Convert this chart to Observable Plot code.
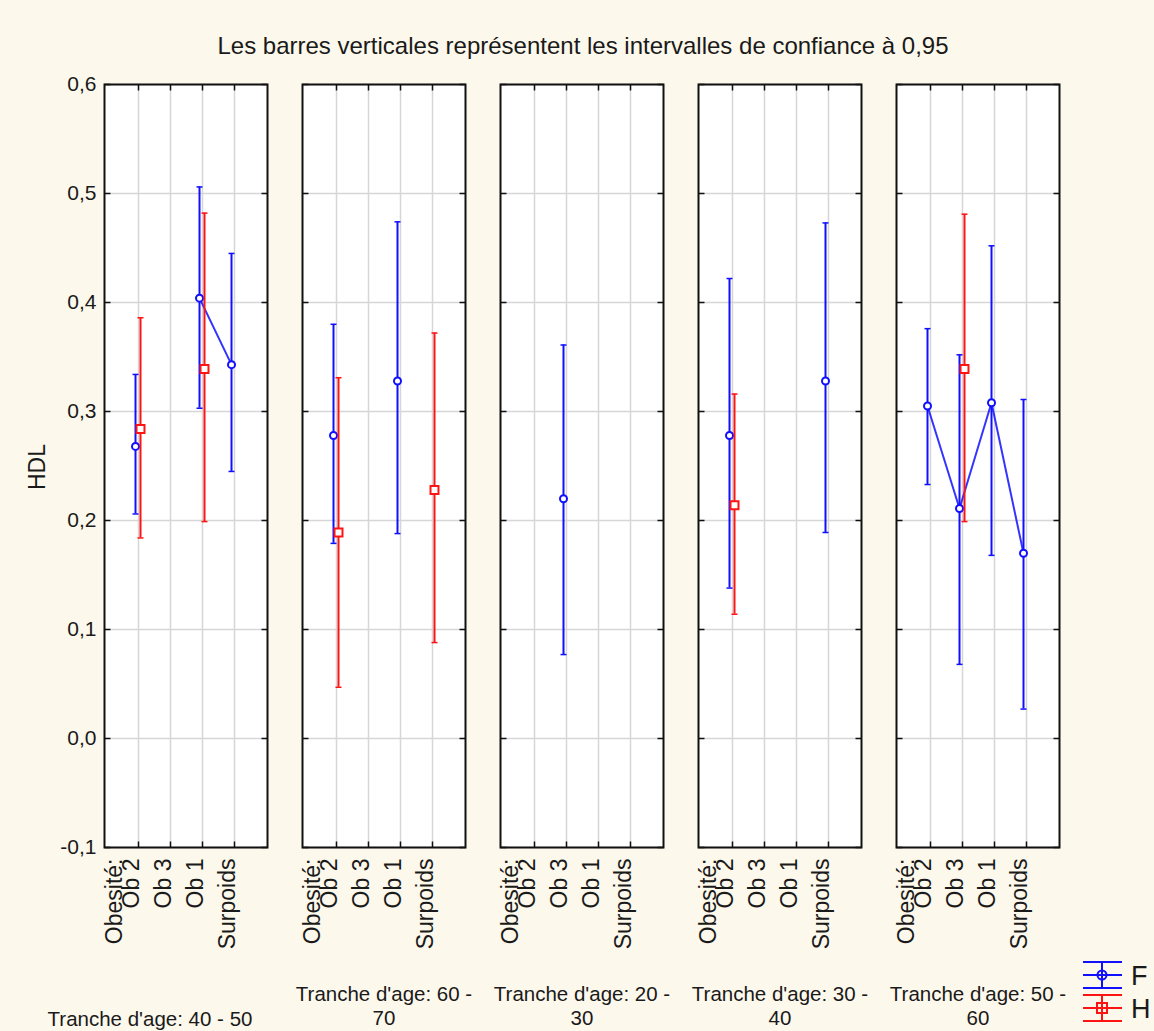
<!DOCTYPE html>
<html>
<head>
<meta charset="utf-8">
<script src="https://cdn.jsdelivr.net/npm/d3@7"></script>
<script src="https://cdn.jsdelivr.net/npm/@observablehq/plot@0.6"></script>
<style>
  html, body { margin: 0; padding: 0; background: #fdf8ec; }
  #wrap { position: relative; width: 1154px; height: 1031px; overflow: hidden; background: #fdf8ec; }
  #chart { position: absolute; left: 0; top: 0; }
  #overlay { position: absolute; left: 0; top: 0; pointer-events: none; }
</style>
</head>
<body>
<div id="wrap">
  <div id="chart"></div>
  <svg id="overlay" width="1154" height="1031">
    <text x="583" y="54" text-anchor="middle" font-family="Liberation Sans, Arial, sans-serif" font-size="24" fill="#1a1a1a">Les barres verticales représentent les intervalles de confiance à 0,95</text>
    <text x="45" y="467" text-anchor="middle" transform="rotate(-90 45 467)" font-family="Liberation Sans, Arial, sans-serif" font-size="23" fill="#1a1a1a">HDL</text>
    <g id="legend"></g>
  </svg>
</div>
<script>
// ---- data ----
const ageGroups = ["40 - 50", "60 - 70", "20 - 30", "30 - 40", "50 - 60"];
const facetLabels = ["Tranche d'age: 40 - 50", "Tranche d'age: 60 -\n70", "Tranche d'age: 20 -\n30", "Tranche d'age: 30 -\n40", "Tranche d'age: 50 -\n60"];
const categories = ["Ob 2", "Ob 3", "Ob 1", "Surpoids"];
const categoryTitle = "Obesité:";
const yTicks = [-0.1, 0, 0.1, 0.2, 0.3, 0.4, 0.5, 0.6];
const sexes = ["F", "H"];

const fMean = [[0.268, null, 0.404, 0.343], [0.278, null, 0.328, null], [null, 0.220, null, null], [0.278, null, null, 0.328], [0.305, 0.211, 0.308, 0.170]];
const fLow  = [[0.206, null, 0.303, 0.245], [0.179, null, 0.188, null], [null, 0.077, null, null], [0.138, null, null, 0.189], [0.233, 0.068, 0.168, 0.027]];
const fHigh = [[0.334, null, 0.506, 0.445], [0.380, null, 0.474, null], [null, 0.361, null, null], [0.422, null, null, 0.473], [0.376, 0.352, 0.452, 0.311]];

const hMean = [[0.284, null, 0.339, null], [0.189, null, null, 0.228], [null, null, null, null], [0.214, null, null, null], [null, 0.339, null, null]];
const hLow  = [[0.184, null, 0.199, null], [0.047, null, null, 0.088], [null, null, null, null], [0.114, null, null, null], [null, 0.199, null, null]];
const hHigh = [[0.386, null, 0.482, null], [0.331, null, null, 0.372], [null, null, null, null], [0.316, null, null, null], [null, 0.481, null, null]];

const colors = { F: "#1010ff", H: "#ff1414" };
const offsets = { F: -3, H: 2 };

// ---- table ----
const rows = [];
ageGroups.forEach((age, i) => {
  categories.forEach((cat, j) => {
    rows.push({ age, cat, sex: "F", mean: fMean[i][j], lo: fLow[i][j], hi: fHigh[i][j] });
    rows.push({ age, cat, sex: "H", mean: hMean[i][j], lo: hLow[i][j], hi: hHigh[i][j] });
  });
});

const fmt = d => d3.format(".1f")(d).replace(".", ",").replace("−", "-");

const sym = (x1, y1, x2, y2) => ({ draw(ctx) { ctx.moveTo(x1, y1); ctx.lineTo(x2, y2); } });
const tickRight = sym(0, 0, 6, 0), tickLeft = sym(-6, 0, 0, 0), tickDown = sym(0, 0, 0, 6), tickUp = sym(0, -6, 0, 0);
const cap = sym(-3, 0, 3, 0);

const font = "Liberation Sans, Arial, sans-serif";

const seriesMarks = sexes.flatMap(s => {
  const d = rows.filter(r => r.sex === s);
  const c = colors[s], dx = offsets[s];
  return [
    Plot.ruleX(d, { x: "cat", y1: "lo", y2: "hi", fx: "age", stroke: c, strokeWidth: 2, dx }),
    Plot.dot(d, { x: "cat", y: "lo", fx: "age", symbol: cap, stroke: c, strokeWidth: 1.5, dx }),
    Plot.dot(d, { x: "cat", y: "hi", fx: "age", symbol: cap, stroke: c, strokeWidth: 1.5, dx }),
    Plot.line(d, { x: "cat", y: "mean", fx: "age", stroke: c, strokeWidth: 2, strokeOpacity: 0.85, dx }),
    s === "F"
      ? Plot.dot(d, { x: "cat", y: "mean", fx: "age", r: 3.5, stroke: c, fill: "white", strokeWidth: 2, dx })
      : Plot.dot(d, { x: "cat", y: "mean", fx: "age", symbol: "square", r: 4.5, stroke: c, fill: "white", strokeWidth: 2, dx })
  ];
});

const chart = Plot.plot({
  width: 1154,
  height: 1031,
  marginTop: 84,
  marginBottom: 184,
  marginLeft: 103,
  marginRight: 94,
  style: { background: "transparent", fontFamily: font, color: "#1a1a1a" },
  fx: { domain: ageGroups, paddingInner: 0.176, paddingOuter: 0, axis: null, label: null },
  x: { type: "point", domain: categories, padding: 1, axis: null },
  y: { domain: [-0.1, 0.6], axis: null },
  marks: [
    Plot.frame({ fill: "white" }),
    Plot.ruleY(yTicks, { y: d => d, stroke: "#d6d6d6", strokeWidth: 1.5 }),
    Plot.ruleX(categories, { x: d => d, stroke: "#d6d6d6", strokeWidth: 1.5 }),
    Plot.dot(yTicks, { y: d => d, frameAnchor: "left", symbol: tickRight, stroke: "#111", strokeWidth: 1.5 }),
    Plot.dot(yTicks, { y: d => d, frameAnchor: "right", symbol: tickLeft, stroke: "#111", strokeWidth: 1.5 }),
    Plot.dot(categories, { x: d => d, frameAnchor: "top", symbol: tickDown, stroke: "#111", strokeWidth: 1.5 }),
    Plot.dot(categories, { x: d => d, frameAnchor: "bottom", symbol: tickUp, stroke: "#111", strokeWidth: 1.5 }),
    ...seriesMarks,
    Plot.frame({ stroke: "#111", strokeWidth: 2 }),
    Plot.axisY(yTicks, { tickSize: 0, tickPadding: 8, tickFormat: fmt, fontSize: 21, label: null, fontFamily: font }),
    Plot.text(categories, { x: d => d, text: d => d, frameAnchor: "bottom", rotate: -90, textAnchor: "end", dy: 11, fontSize: 23, fontFamily: font, fill: "#1a1a1a" }),
    Plot.text([categoryTitle], { x: () => categories[0], text: d => d, frameAnchor: "bottom", rotate: -90, textAnchor: "end", dy: 11, dx: -17, fontSize: 23, fontFamily: font, fill: "#1a1a1a" }),
    Plot.text(ageGroups.slice(0, 1), { fx: d => d, text: d => facetLabels[ageGroups.indexOf(d)], frameAnchor: "bottom", lineAnchor: "bottom", dy: 178, dx: -36, fontSize: 20.5, fontFamily: font, fill: "#1a1a1a" }),
    Plot.text(ageGroups.slice(1), { fx: d => d, text: d => facetLabels[ageGroups.indexOf(d)], frameAnchor: "bottom", lineAnchor: "bottom", dy: 177, lineHeight: 1.17, fontSize: 20.5, fontFamily: font, fill: "#1a1a1a" })
  ]
});
document.getElementById("chart").append(chart);

// ---- legend ----
const legend = d3.select("#legend");
sexes.forEach((s, i) => {
  const g = legend.append("g").attr("transform", `translate(0, ${i * 33})`);
  const c = colors[s];
  [962, 975, 988].forEach(y => g.append("line").attr("x1", 1083).attr("x2", 1122).attr("y1", y).attr("y2", y).attr("stroke", c).attr("stroke-width", 2));
  g.append("line").attr("x1", 1102).attr("x2", 1102).attr("y1", 962).attr("y2", 988).attr("stroke", c).attr("stroke-width", 2);
  if (s === "F") g.append("circle").attr("cx", 1102).attr("cy", 975).attr("r", 4.5).attr("fill", "none").attr("stroke", c).attr("stroke-width", 2);
  else g.append("rect").attr("x", 1097).attr("y", 970).attr("width", 10).attr("height", 10).attr("fill", "none").attr("stroke", c).attr("stroke-width", 2);
  g.append("text").attr("x", 1131).attr("y", 985).attr("font-family", font).attr("font-size", 27).attr("fill", "#1a1a1a").text(s);
});
</script>
</body>
</html>
